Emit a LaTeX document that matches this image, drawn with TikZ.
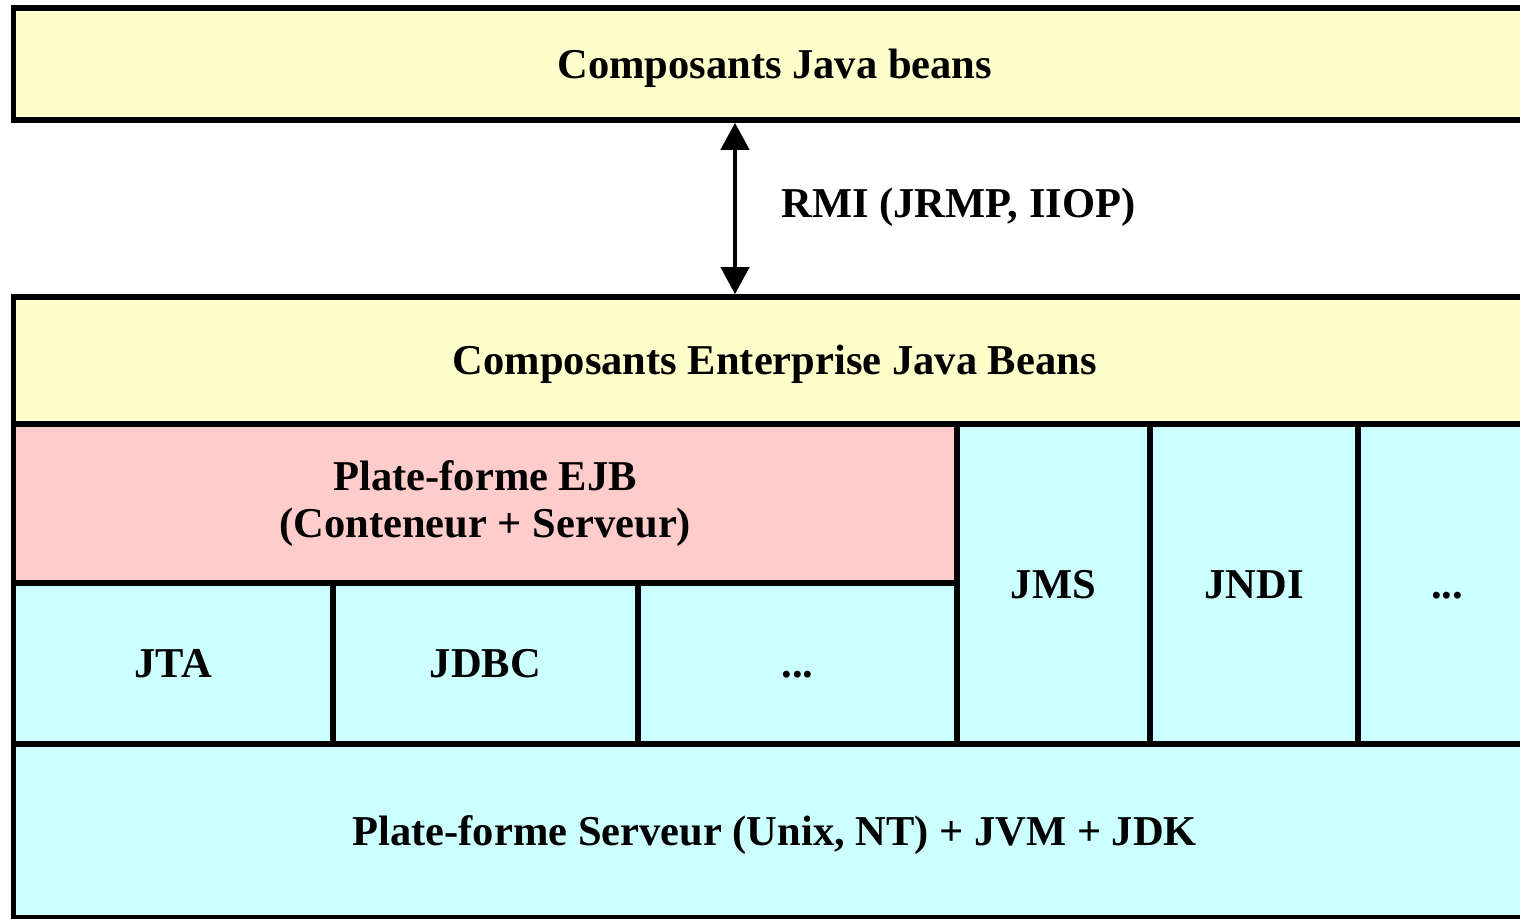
\documentclass[tikz,border=0pt]{standalone}
\usepackage{fontspec}
\setmainfont{Liberation Serif}
\usetikzlibrary{arrows.meta}
\definecolor{jaune}{HTML}{FFFFCC}
\definecolor{rose}{HTML}{FFCCCC}
\definecolor{cyan}{HTML}{CCFFFF}

\begin{document}
\begin{tikzpicture}[>={Triangle[length=2.7mm,width=2.8mm]},font=\bfseries\fontsize{12.1}{13.5}\selectfont]
    \tikzstyle{couche}=[draw, line width=1.6pt, inner sep=0pt, align=center]
    \tikzstyle{ligne}=[couche, text height=0.8em, text depth=0pt]
    \useasboundingbox (0,0) rectangle (15.2,-9.19);
    \clip (0,0) rectangle (15.2,-9.19);

	\node [ligne, fill=jaune, minimum width=15.225cm, minimum height=1.12cm] (beans) at (7.7475, -0.64) {Composants Java beans};

	\node [ligne, fill=jaune, minimum width=15.225cm, minimum height=1.27cm] (ejb) at (7.7475, -3.605) {Composants Enterprise Java Beans};

	\node [couche, fill=rose, minimum width=9.435cm, minimum height=1.59cm] (plateforme) at (4.8525, -5.035) {Plate-forme EJB\\ (Conteneur + Serveur)};

	\node [ligne, fill=cyan, minimum width=3.195cm, minimum height=1.61cm] (jta) at (1.7325, -6.635) {JTA};
	\node [ligne, fill=cyan, minimum width=3.05cm, minimum height=1.61cm] (jdbc) at (4.855, -6.635) {JDBC};
	\node [ligne, fill=cyan, minimum width=3.19cm, minimum height=1.61cm] (autres) at (7.975, -6.635) {...};

	\node [ligne, fill=cyan, minimum width=1.93cm, minimum height=3.2cm] (jms) at (10.535, -5.84) {JMS};
	\node [ligne, fill=cyan, minimum width=2.08cm, minimum height=3.2cm] (jndi) at (12.54, -5.84) {JNDI};
	\node [ligne, fill=cyan, minimum width=1.78cm, minimum height=3.2cm] (divers) at (14.47, -5.84) {...};

	\node [ligne, fill=cyan, minimum width=15.225cm, minimum height=1.74cm] (serveur) at (7.7475, -8.31) {Plate-forme Serveur (Unix, NT) + JVM + JDK};

	\coordinate (rmi) at (7.35, 0);
	\draw [<->, line width=1.2pt] (beans.south -| rmi) -- (ejb.north -| rmi);
	\node [anchor=west, text height=0.8em, text depth=0pt] (protocoles) at (7.69, -2.03) {RMI (JRMP, IIOP)};
\end{tikzpicture}
\end{document}
